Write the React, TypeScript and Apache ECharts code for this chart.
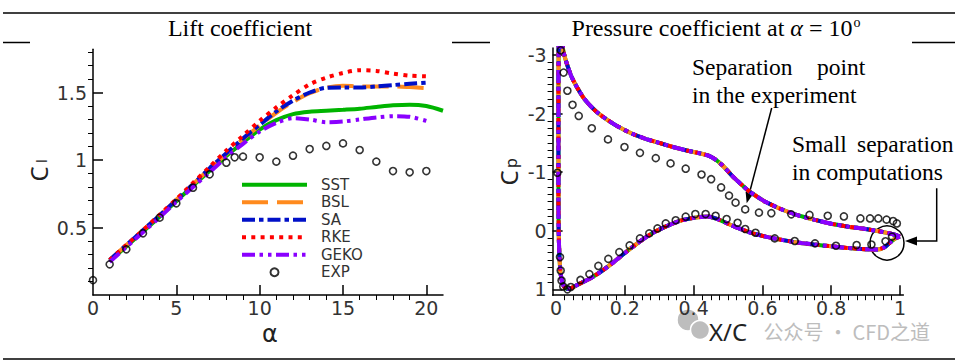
import React, { useEffect, useRef } from "react";
import * as echarts from "echarts";

// ---------------- DATA ----------------
// Lift coefficient vs angle of attack
const alphaCFD = [1, 2, 3, 4, 5, 6, 7, 8, 9, 10, 11, 12, 13, 14, 15, 16, 17, 18, 19, 20];
const alphaSST = [1, 2, 3, 4, 5, 6, 7, 8, 9, 10, 11, 12, 13, 14, 15, 16, 17, 18, 19, 20, 21];
const clSST = [0.25, 0.36, 0.47, 0.58, 0.695, 0.81, 0.92, 1.03, 1.13, 1.225, 1.295, 1.34, 1.358, 1.365, 1.372, 1.38, 1.393, 1.405, 1.41, 1.4, 1.365];
const clBSL = [0.26, 0.37, 0.48, 0.59, 0.705, 0.82, 0.935, 1.045, 1.155, 1.255, 1.35, 1.43, 1.495, 1.535, 1.55, 1.545, 1.545, 1.545, 1.54, 1.532];
const clSA = [0.26, 0.37, 0.48, 0.59, 0.705, 0.82, 0.94, 1.05, 1.16, 1.26, 1.36, 1.44, 1.5, 1.535, 1.537, 1.537, 1.545, 1.555, 1.565, 1.573];
const clRKE = [0.26, 0.37, 0.48, 0.595, 0.71, 0.83, 0.95, 1.07, 1.18, 1.29, 1.39, 1.48, 1.56, 1.61, 1.645, 1.665, 1.66, 1.64, 1.625, 1.62];
const clGEKO = [0.245, 0.355, 0.465, 0.575, 0.69, 0.8, 0.91, 1.02, 1.12, 1.21, 1.275, 1.31, 1.3, 1.28, 1.285, 1.3, 1.315, 1.325, 1.32, 1.29];
const alphaExp = [0, 1, 2, 3, 4, 5, 6, 7, 8, 8.5, 9, 10, 11, 12, 13, 14, 15, 16, 17, 18, 19, 20];
const clExp = [0.11, 0.227, 0.338, 0.457, 0.573, 0.679, 0.795, 0.894, 0.98, 1.02, 1.025, 1.02, 0.988, 1.032, 1.081, 1.104, 1.123, 1.074, 0.988, 0.918, 0.909, 0.918];

// Pressure coefficient at alpha = 10 deg (computed contour: TE -> upper -> LE -> lower -> TE)
const cpModel: [number, number][] = [
  [1.0, 0.1], [0.98, 0.06], [0.95, 0.02], [0.9, -0.03], [0.85, -0.07], [0.8, -0.12], [0.75, -0.19],
  [0.7, -0.27], [0.65, -0.38], [0.61, -0.49], [0.585, -0.58], [0.56, -0.68], [0.535, -0.81], [0.51, -0.95],
  [0.485, -1.11], [0.465, -1.21], [0.445, -1.28], [0.42, -1.32], [0.38, -1.37], [0.34, -1.43], [0.3, -1.5],
  [0.26, -1.57], [0.22, -1.66], [0.18, -1.78], [0.15, -1.89], [0.12, -2.02], [0.1, -2.13], [0.08, -2.27],
  [0.06, -2.46], [0.045, -2.63], [0.032, -2.84], [0.022, -3.05], [0.015, -3.3], [0.01, -3.8],
  [0.008, -3.3], [0.007, -2.5], [0.007, -1.5], [0.007, -0.5], [0.008, 0.1], [0.01, 0.45], [0.013, 0.72],
  [0.018, 0.88], [0.024, 0.96], [0.032, 0.995], [0.045, 0.975], [0.06, 0.93], [0.08, 0.87], [0.1, 0.81],
  [0.13, 0.7], [0.16, 0.57], [0.2, 0.38], [0.24, 0.2], [0.28, 0.04], [0.32, -0.075], [0.36, -0.17],
  [0.4, -0.22], [0.44, -0.245], [0.47, -0.2], [0.5, -0.12], [0.53, -0.045], [0.57, 0.04], [0.61, 0.1],
  [0.66, 0.16], [0.7, 0.2], [0.75, 0.235], [0.8, 0.265], [0.85, 0.295], [0.9, 0.315], [0.935, 0.32],
  [0.955, 0.28], [0.975, 0.18], [0.99, 0.12], [1.0, 0.1],
];
const cpExpUpper: [number, number][] = [
  [0.004, -0.99], [0.0135, -3.08], [0.022, -2.7], [0.033, -2.39], [0.048, -2.15], [0.066, -1.96], [0.104, -1.75],
  [0.151, -1.56], [0.199, -1.43], [0.244, -1.33], [0.29, -1.24], [0.333, -1.15], [0.377, -1.06],
  [0.423, -0.96], [0.451, -0.88], [0.48, -0.74], [0.503, -0.6], [0.522, -0.48], [0.55, -0.365],
  [0.59, -0.31], [0.626, -0.3], [0.684, -0.28], [0.737, -0.27], [0.79, -0.256], [0.837, -0.245],
  [0.885, -0.21], [0.913, -0.21], [0.937, -0.21], [0.961, -0.19], [0.98, -0.165], [0.991, -0.125],
];
const cpExpLower: [number, number][] = [
  [0.0115, 0.45], [0.0135, 0.68], [0.016, 0.85], [0.021, 0.95], [0.033, 1.0], [0.043, 0.96], [0.071, 0.84],
  [0.097, 0.74], [0.123, 0.6], [0.152, 0.48], [0.184, 0.365], [0.214, 0.25], [0.244, 0.13], [0.271, 0.045],
  [0.295, -0.04], [0.319, -0.125], [0.348, -0.18], [0.377, -0.24], [0.405, -0.285], [0.435, -0.285],
  [0.464, -0.256], [0.496, -0.2], [0.528, -0.137], [0.55, -0.03], [0.58, 0.034], [0.636, 0.13],
  [0.694, 0.175], [0.753, 0.215], [0.814, 0.256], [0.874, 0.244], [0.917, 0.235], [0.958, 0.18], [0.977, 0.1],
];

// Tick labels
const liftXLabels = [0, 5, 10, 15, 20];
const liftYLabels = [0.5, 1, 1.5];
const cpXLabels = [0, 0.2, 0.4, 0.6, 0.8, 1];
const cpYLabels = [-3, -2, -1, 0, 1];

const modelNames = ["SST", "BSL", "SA", "RKE", "GEKO"];

// ---------------- STYLES ----------------
const modelStyles: Record<string, { color: string; type: any }> = {
  SST: { color: "#00b400", type: "solid" },
  BSL: { color: "#ff8a1e", type: [26, 9] },
  SA: { color: "#0010c8", type: [13, 4, 4.5, 4] },
  RKE: { color: "#ff0000", type: [4, 5.3] },
  GEKO: { color: "#8a00ff", type: [13, 4.5, 3.5, 5, 3.5, 4.5] },
};

const range = (a: number, b: number, step: number, skip: number) => {
  const out: number[] = [];
  for (let k = 1; a + k * step <= b + 1e-9; k++) {
    if (k % skip !== 0) out.push(Math.round((a + k * step) * 1000) / 1000);
  }
  return out;
};
const liftXMinor = range(0, 20, 1, 5);
const liftYMinor = range(0, 1.8, 0.1, 5);
const cpXMinor = range(0, 0.99, 0.025, 8);
const cpYMinor = range(-3, 1, 0.125, 8);

const SANS = "'Noto Sans', 'Open Sans', sans-serif";
const DEJAVU = "'DejaVu Sans', sans-serif";
const SERIF = "'Liberation Serif', 'Times New Roman', serif";
const axisLine = { color: "#000", width: 1.5 };
const minorLine = { color: "#000", width: 1 };
const tickFont = { color: "#333", fontSize: 19, fontFamily: DEJAVU };

function mainAxis(gridIndex: number, min: number, max: number, labels: number[], ticks: number[], position: string, inverse = false, margin = 6) {
  return {
    type: "value", gridIndex, min, max, inverse, position,
    axisLine: { show: true, onZero: false, lineStyle: axisLine },
    axisTick: { show: true, inside: true, length: 10, customValues: ticks, lineStyle: axisLine },
    axisLabel: { show: true, customValues: labels, margin, ...tickFont },
    splitLine: { show: false },
  };
}
function minorAxis(gridIndex: number, min: number, max: number, ticks: number[], position: string, inverse = false) {
  return {
    type: "value", gridIndex, min, max, inverse, position,
    axisLine: { show: false, onZero: false },
    axisTick: { show: true, inside: false, length: 5, customValues: ticks, lineStyle: minorLine },
    axisLabel: { show: false },
    splitLine: { show: false },
  };
}

const zip = (xs: number[], ys: number[]) => xs.map((x, i) => [x, ys[i]]);
const liftData: Record<string, number[][]> = {
  SST: zip(alphaSST, clSST),
  BSL: zip(alphaCFD, clBSL),
  SA: zip(alphaCFD, clSA),
  RKE: zip(alphaCFD, clRKE),
  GEKO: zip(alphaCFD, clGEKO),
};

const lineSeries = (name: string, data: number[][], axis: number, smooth: number) => ({
  name, type: "line", xAxisIndex: axis, yAxisIndex: axis, data,
  symbol: "none", showSymbol: false, smooth, clip: true,
  lineStyle: { color: modelStyles[name].color, width: 4, type: modelStyles[name].type, cap: "butt" },
  itemStyle: { color: modelStyles[name].color },
  z: 2,
});
const expStyle = { color: "rgba(255,255,255,0)", borderColor: "#000", borderWidth: 1.6 };

const option: any = {
  animation: false,
  backgroundColor: "#fff",
  grid: [
    { left: 93, top: 49.3, width: 350, height: 245.7 },
    { left: 552.6, top: 48, width: 350.8, height: 247.2 },
  ],
  xAxis: [
    mainAxis(0, 0, 21, liftXLabels, [5, 10, 15, 20], "bottom", false, 3),
    minorAxis(0, 0, 21, liftXMinor, "bottom"),
    mainAxis(1, -0.01, 1.01, cpXLabels, [0.2, 0.4, 0.6, 0.8, 1], "bottom", false, 3),
    minorAxis(1, -0.01, 1.01, cpXMinor, "bottom"),
  ],
  yAxis: [
    mainAxis(0, 0, 1.82, liftYLabels, [0.5, 1, 1.5], "left"),
    minorAxis(0, 0, 1.82, liftYMinor, "left"),
    mainAxis(1, -3.12, 1.1, cpYLabels, [-3, -2, -1, 0, 1], "left", true),
    minorAxis(1, -3.12, 1.1, cpYMinor, "left", true),
  ],
  legend: {
    data: [
      ...modelNames.map((n) => ({ name: n, itemStyle: { opacity: 0 } })),
      { name: "EXP" },
    ],
    orient: "vertical", left: 235, top: 171,
    itemWidth: 65, itemHeight: 8, itemGap: 0, padding: 5,
    selectedMode: false,
    lineStyle: { width: 4, cap: "butt" },
    textStyle: { fontSize: 15, lineHeight: 17.5, color: "#333", fontFamily: DEJAVU, padding: [0, 0, 0, 9] },
  },
  series: [
    ...modelNames.map((n) => lineSeries(n, liftData[n], 0, 0.3)),
    {
      name: "EXP", type: "scatter", xAxisIndex: 0, yAxisIndex: 0, data: zip(alphaExp, clExp),
      symbol: "circle", symbolSize: 7, itemStyle: expStyle, clip: false, z: 5,
    },
    ...modelNames.map((n) => lineSeries(n, cpModel, 2, 0.2)),
    {
      name: "EXP", type: "scatter", xAxisIndex: 2, yAxisIndex: 2, data: [...cpExpUpper, ...cpExpLower],
      symbol: "circle", symbolSize: 7, itemStyle: expStyle, clip: false, z: 5,
    },
  ],
  graphic: [
    // table rules
    { type: "line", shape: { x1: 3, y1: 13, x2: 955, y2: 13 }, style: { stroke: "#000", lineWidth: 1.5 } },
    { type: "line", shape: { x1: 3, y1: 42.5, x2: 30, y2: 42.5 }, style: { stroke: "#000", lineWidth: 1.5 } },
    { type: "line", shape: { x1: 452, y1: 42.5, x2: 490, y2: 42.5 }, style: { stroke: "#000", lineWidth: 1.5 } },
    { type: "line", shape: { x1: 912, y1: 42.5, x2: 955, y2: 42.5 }, style: { stroke: "#000", lineWidth: 1.5 } },
    { type: "line", shape: { x1: 3, y1: 359, x2: 955, y2: 359 }, style: { stroke: "#000", lineWidth: 1.5 } },
    // titles
    { type: "text", x: 240, y: 28, style: { text: "Lift coefficient", fontSize: 24, fontFamily: SERIF, fill: "#000", align: "center", verticalAlign: "middle" } },
    {
      type: "text", x: 716, y: 28,
      style: {
        text: "{a|Pressure coefficient at }{i|α}{a| = 10}{s|o}",
        align: "center", verticalAlign: "middle",
        rich: {
          a: { fontSize: 24, fontFamily: SERIF, fill: "#000", lineHeight: 26 },
          i: { fontSize: 24, fontFamily: SERIF, fontStyle: "italic", fill: "#000", lineHeight: 26 },
          s: { fontSize: 14, fontFamily: SERIF, fill: "#000", lineHeight: 26, verticalAlign: "top", padding: [0, 0, 10, 1] },
        },
      },
    },
    // axis names
    { type: "text", x: 38.5, y: 174, rotation: Math.PI / 2, style: { text: "C", fontSize: 24, fontFamily: SANS, fill: "#222", align: "center", verticalAlign: "middle" } },
    { type: "text", x: 41, y: 161, rotation: Math.PI / 2, style: { text: "l", fontSize: 15, fontFamily: SANS, fill: "#222", align: "center", verticalAlign: "middle" } },
    { type: "text", x: 270, y: 334, style: { text: "α", fontSize: 24, fontFamily: DEJAVU, fill: "#222", align: "center", verticalAlign: "middle" } },
    { type: "text", x: 508, y: 178, rotation: Math.PI / 2, style: { text: "C", fontSize: 24, fontFamily: SANS, fill: "#222", align: "center", verticalAlign: "middle" } },
    { type: "text", x: 511, y: 163, rotation: Math.PI / 2, style: { text: "p", fontSize: 16, fontFamily: SANS, fill: "#222", align: "center", verticalAlign: "middle" } },
    // watermark
    { type: "circle", shape: { cx: 688, cy: 320, r: 11 }, style: { fill: "#bdbdbd", stroke: "#fff", lineWidth: 1.5 } },
    { type: "circle", shape: { cx: 700, cy: 330, r: 9.5 }, style: { fill: "#bdbdbd", stroke: "#fff", lineWidth: 1.5 } },
    { type: "text", x: 930, y: 331, style: { text: "公众号 · CFD之道", fontSize: 20, lineHeight: 20, fontFamily: "'Noto Sans CJK SC', sans-serif", fill: "#bdbdbd", align: "right", verticalAlign: "middle" } },
    { type: "text", x: 728, y: 331, style: { text: "X/C", fontSize: 24, fontFamily: SANS, fill: "#222", align: "center", verticalAlign: "middle" } },
    // annotations
    { type: "text", x: 692, y: 67, style: { text: "Separation", fontSize: 23.5, fontFamily: SERIF, fill: "#000", align: "left", verticalAlign: "middle" } },
    { type: "text", x: 817, y: 67, style: { text: "point", fontSize: 23.5, fontFamily: SERIF, fill: "#000", align: "left", verticalAlign: "middle" } },
    { type: "text", x: 692, y: 95, style: { text: "in the experiment", fontSize: 23.5, fontFamily: SERIF, fill: "#000", align: "left", verticalAlign: "middle" } },
    { type: "text", x: 792, y: 144, style: { text: "Small", fontSize: 23.5, fontFamily: SERIF, fill: "#000", align: "left", verticalAlign: "middle" } },
    { type: "text", x: 857, y: 144, style: { text: "separation", fontSize: 23.5, fontFamily: SERIF, fill: "#000", align: "left", verticalAlign: "middle" } },
    { type: "text", x: 792, y: 172, style: { text: "in computations", fontSize: 23.5, fontFamily: SERIF, fill: "#000", align: "left", verticalAlign: "middle" } },
    { type: "line", shape: { x1: 771.7, y1: 108, x2: 749.5, y2: 192.7 }, style: { stroke: "#000", lineWidth: 1.5 } },
    { type: "polygon", shape: { points: [[746.7, 203.3], [753.4, 193.7], [745.6, 191.7]] }, style: { fill: "#000" } },
    { type: "polyline", shape: { points: [[936.7, 188.3], [936.7, 241], [917, 241]] }, style: { stroke: "#000", lineWidth: 1.5, fill: null } },
    { type: "polygon", shape: { points: [[905, 241], [917, 236.5], [917, 245.5]] }, style: { fill: "#000" } },
    { type: "circle", shape: { cx: 887, cy: 243, r: 17 }, style: { stroke: "#000", lineWidth: 1.5, fill: null } },
  ],
};

export default function App() {
  const ref = useRef<HTMLDivElement>(null);
  useEffect(() => {
    const chart = echarts.init(ref.current!, null, { renderer: "svg" });
    chart.setOption(option);
    return () => chart.dispose();
  }, []);
  return <div ref={ref} style={{ position: "fixed", left: 0, top: 0, width: 960, height: 363, background: "#fff" }} />;
}
